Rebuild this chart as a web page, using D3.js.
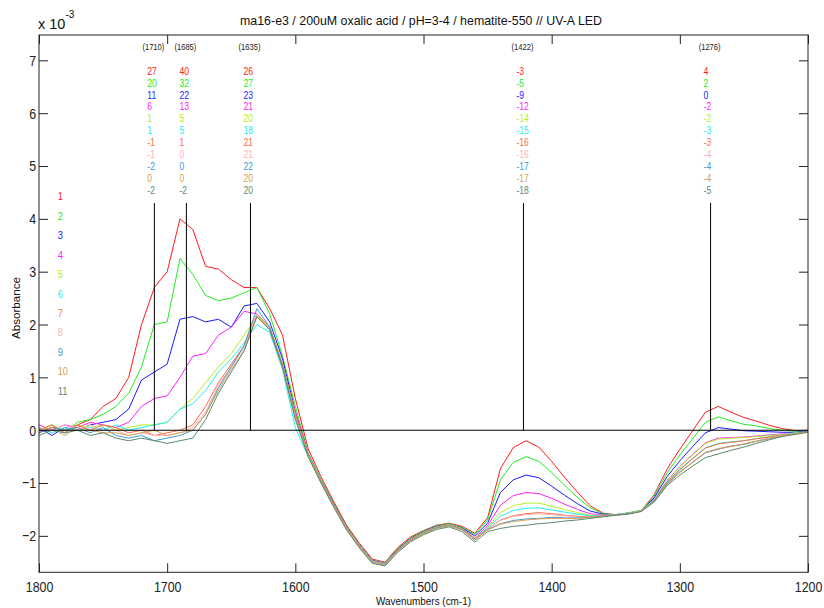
<!DOCTYPE html>
<html>
<head>
<meta charset="utf-8">
<script src="https://cdn.jsdelivr.net/npm/d3@7/dist/d3.min.js"></script>
<style>
  html, body { margin: 0; padding: 0; background: #fff; }
  svg text { font-family: 'Liberation Sans', Arial, sans-serif; }
  .nar-m { transform-box: fill-box; transform-origin: center; transform: scaleX(0.8); }
  .nar-s { transform-box: fill-box; transform-origin: left center; transform: scaleX(0.8); }
  .nar-e { transform-box: fill-box; transform-origin: right center; transform: scaleX(0.8); }
</style>
</head>
<body>
<svg id="chart" width="824" height="608"></svg>
<script>
// ---------------- DATA ----------------
const wavenumbers = [1800,1790,1780,1770,1760,1750,1740,1730,1720,1710,1700,1690,1680,1670,1660,1650,1640,1630,1620,1610,1600,
  1590,1580,1570,1560,1550,1540,1530,1520,1510,1500,1490,1480,1470,1460,
  1450,1440,1430,1420,1410,1400,1390,1380,1370,1360,1350,
  1340,1330,1320,1310,1300,1290,1280,1270,1260,1250,1240,1230,1220,1210,1200];

// absorbance x 10^-3
const s1 = [-0.05,0.05,0.0,0.1,0.2,0.45,0.6,1.0,2.0,2.7,3.0,4.0,3.8,3.1,3.05,2.85,2.7,2.7,2.3,1.8,0.6,
  -0.35,-0.88,-1.35,-1.8,-2.14,-2.44,-2.5,-2.22,-2.02,-1.9,-1.8,-1.76,-1.82,-1.95,
  -1.66,-0.73,-0.33,-0.2,-0.32,-0.59,-0.89,-1.17,-1.43,-1.57,-1.6,
  -1.57,-1.52,-1.22,-0.74,-0.36,-0.01,0.34,0.45,0.34,0.24,0.17,0.09,0.03,-0.01,0.0];
const s2 = [0.0,0.1,-0.05,0.15,0.2,0.3,0.45,0.7,1.2,2.0,2.05,3.25,2.95,2.55,2.45,2.5,2.6,2.7,2.2,1.4,0.45,
  -0.42,-0.93,-1.38,-1.82,-2.16,-2.46,-2.51,-2.24,-2.04,-1.91,-1.81,-1.77,-1.84,-1.97,
  -1.7,-0.94,-0.61,-0.5,-0.59,-0.8,-1.04,-1.27,-1.47,-1.58,-1.6,
  -1.56,-1.52,-1.25,-0.81,-0.47,-0.16,0.15,0.25,0.18,0.11,0.08,0.03,0.0,-0.02,-0.01];
const s3 = [0.05,-0.1,0.05,0.0,0.1,0.15,0.2,0.4,0.95,1.1,1.25,2.1,2.15,2.05,2.1,1.95,2.35,2.4,2.05,1.35,0.35,
  -0.45,-0.95,-1.4,-1.83,-2.17,-2.47,-2.52,-2.25,-2.05,-1.92,-1.82,-1.78,-1.85,-2.0,
  -1.76,-1.18,-0.94,-0.85,-0.9,-1.06,-1.23,-1.39,-1.53,-1.59,-1.6,
  -1.57,-1.53,-1.28,-0.88,-0.58,-0.31,-0.05,0.05,0.02,-0.01,-0.02,-0.03,-0.04,-0.04,-0.02];
const s4 = [0.1,0.0,0.1,0.05,0.15,0.1,0.05,0.15,0.45,0.6,0.65,1.0,1.4,1.45,1.8,1.95,2.25,2.2,1.9,1.2,0.35,
  -0.45,-0.96,-1.41,-1.84,-2.18,-2.47,-2.52,-2.26,-2.06,-1.93,-1.83,-1.79,-1.86,-2.04,
  -1.81,-1.42,-1.24,-1.18,-1.2,-1.29,-1.4,-1.5,-1.58,-1.61,-1.6,
  -1.57,-1.52,-1.31,-0.95,-0.69,-0.46,-0.24,-0.15,-0.14,-0.13,-0.11,-0.09,-0.07,-0.06,-0.02];
const s5 = [0.0,0.1,0.0,0.1,0.05,0.1,0.0,0.05,0.1,0.1,0.15,0.4,0.6,0.9,1.2,1.45,1.8,2.15,1.95,1.25,0.3,
  -0.46,-0.96,-1.42,-1.84,-2.18,-2.48,-2.53,-2.26,-2.06,-1.93,-1.83,-1.78,-1.86,-2.05,
  -1.84,-1.56,-1.43,-1.38,-1.38,-1.44,-1.5,-1.56,-1.61,-1.61,-1.6,
  -1.57,-1.52,-1.32,-0.96,-0.7,-0.47,-0.25,-0.17,-0.15,-0.14,-0.12,-0.1,-0.08,-0.05,-0.03];
const s6 = [0.05,-0.05,0.05,0.0,0.05,0.0,0.1,0.0,0.05,0.1,0.15,0.4,0.5,0.75,1.1,1.35,1.65,2.0,1.85,1.15,0.05,
  -0.5,-0.98,-1.43,-1.85,-2.19,-2.48,-2.53,-2.27,-2.07,-1.94,-1.84,-1.79,-1.87,-2.06,
  -1.85,-1.63,-1.52,-1.48,-1.47,-1.51,-1.55,-1.59,-1.62,-1.62,-1.6,
  -1.57,-1.52,-1.32,-0.98,-0.74,-0.53,-0.33,-0.25,-0.22,-0.2,-0.16,-0.12,-0.09,-0.06,-0.02];
const s7 = [0.0,0.1,-0.05,0.1,0.0,0.1,0.05,-0.05,0.0,-0.1,-0.05,0.0,0.1,0.45,0.9,1.25,1.6,2.2,1.95,1.25,0.3,
  -0.46,-0.97,-1.42,-1.85,-2.19,-2.49,-2.54,-2.27,-2.07,-1.94,-1.84,-1.79,-1.87,-2.06,
  -1.87,-1.7,-1.62,-1.58,-1.56,-1.58,-1.61,-1.63,-1.64,-1.62,-1.61,
  -1.58,-1.53,-1.33,-0.99,-0.75,-0.54,-0.34,-0.26,-0.23,-0.2,-0.16,-0.13,-0.09,-0.07,-0.03];
const s8 = [0.05,0.0,0.1,0.0,0.1,0.0,0.0,-0.1,-0.05,-0.1,-0.1,-0.05,0.05,0.35,0.85,1.2,1.55,2.2,1.9,1.2,0.25,
  -0.47,-0.97,-1.43,-1.86,-2.2,-2.49,-2.54,-2.28,-2.08,-1.95,-1.85,-1.8,-1.88,-2.07,
  -1.87,-1.71,-1.63,-1.6,-1.58,-1.6,-1.62,-1.64,-1.65,-1.63,-1.6,
  -1.58,-1.53,-1.34,-1.02,-0.8,-0.6,-0.42,-0.35,-0.3,-0.26,-0.2,-0.15,-0.1,-0.07,-0.03];
const s9 = [-0.05,0.05,0.0,0.05,-0.05,0.05,-0.1,-0.15,-0.1,-0.2,-0.15,-0.1,0.0,0.3,0.8,1.2,1.6,2.3,1.95,1.2,0.25,
  -0.48,-0.98,-1.44,-1.87,-2.21,-2.5,-2.55,-2.28,-2.08,-1.95,-1.85,-1.8,-1.88,-2.08,
  -1.88,-1.77,-1.71,-1.68,-1.67,-1.65,-1.66,-1.66,-1.65,-1.63,-1.6,
  -1.58,-1.53,-1.34,-1.01,-0.79,-0.61,-0.43,-0.36,-0.3,-0.27,-0.21,-0.16,-0.11,-0.07,-0.02];
const s10 = [0.0,0.05,-0.1,0.05,0.0,-0.05,-0.05,-0.1,-0.05,0.0,-0.1,-0.05,0.0,0.3,0.75,1.15,1.5,2.15,1.9,1.2,0.25,
  -0.48,-0.98,-1.44,-1.87,-2.21,-2.5,-2.55,-2.29,-2.09,-1.96,-1.86,-1.81,-1.89,-2.08,
  -1.89,-1.78,-1.73,-1.7,-1.68,-1.67,-1.67,-1.67,-1.65,-1.63,-1.61,
  -1.58,-1.53,-1.35,-1.03,-0.8,-0.61,-0.42,-0.35,-0.31,-0.26,-0.21,-0.15,-0.11,-0.07,-0.03];
const s11 = [-0.1,0.0,-0.05,0.0,-0.1,-0.05,-0.15,-0.2,-0.15,-0.2,-0.25,-0.2,-0.15,0.2,0.7,1.1,1.5,2.15,1.9,1.2,0.2,
  -0.5,-1.0,-1.46,-1.89,-2.23,-2.52,-2.57,-2.31,-2.11,-1.98,-1.88,-1.83,-1.92,-2.12,
  -1.92,-1.86,-1.82,-1.8,-1.77,-1.75,-1.72,-1.7,-1.67,-1.64,-1.61,
  -1.59,-1.54,-1.36,-1.05,-0.85,-0.68,-0.52,-0.45,-0.38,-0.32,-0.25,-0.18,-0.12,-0.08,-0.04];

const seriesNames = ["1","2","3","4","5","6","7","8","9","10","11"];
const seriesValues = [s1,s2,s3,s4,s5,s6,s7,s8,s9,s10,s11];
const seriesColors = ["#ff1a1a","#22ee22","#1a1aff","#ff22ff","#b4f020","#22eeee","#ff6a48","#ffb2b2","#3f9ad0","#d9a050","#5a8a70"];

// marker positions and their annotated values (x 10^-4)
const markerWn = [1710, 1685, 1635, 1422, 1276];
const vals1710 = [27,20,11,6,1,1,-1,-1,-2,0,-2];
const vals1685 = [40,32,22,13,5,5,1,0,0,0,-2];
const vals1635 = [26,27,23,21,20,18,21,21,22,20,20];
const vals1422 = [-3,-5,-9,-12,-14,-15,-16,-16,-17,-17,-18];
const vals1276 = [4,2,0,-2,-2,-3,-3,-4,-4,-4,-5];
const markerVals = [vals1710, vals1685, vals1635, vals1422, vals1276];
const markerTop = 4.3;

const xTicks = [1800,1700,1600,1500,1400,1300,1200];
const yTicks = [-2,-1,0,1,2,3,4,5,6,7];

const titleText = "ma16-e3 / 200uM oxalic acid / pH=3-4 / hematite-550 // UV-A LED";
const xLabel = "Wavenumbers (cm-1)";
const yLabel = "Absorbance";

// ---------------- LAYOUT ----------------
const L = 39, R = 808, T = 35, B = 572.3;
const svg = d3.select("#chart");
const x = d3.scaleLinear().domain([1800, 1200]).range([L, R]);
const y = d3.scaleLinear().domain([-2.69, 7.48]).range([B, T]);

// lines
const line = d3.line().x((d, i) => x(wavenumbers[i])).y(d => y(d));
const gLines = svg.append("g");
seriesValues.forEach((vals, k) => {
  gLines.append("path").attr("d", line(vals))
    .attr("fill", "none").attr("stroke", seriesColors[k])
    .attr("stroke-width", 1).attr("stroke-linejoin", "round");
});

// zero line
svg.append("line").attr("x1", L).attr("x2", R).attr("y1", y(0)).attr("y2", y(0))
  .attr("stroke", "#000").attr("stroke-width", 1.1);

// marker lines + labels
markerWn.forEach((w, m) => {
  const xm = x(w);
  svg.append("line").attr("x1", xm).attr("x2", xm).attr("y1", y(markerTop)).attr("y2", y(0))
    .attr("stroke", "#000").attr("stroke-width", 1);
  svg.append("text").attr("class", "nar-m").attr("x", xm - 1).attr("y", 50.5).attr("text-anchor", "middle")
    .attr("font-size", "9.5px").attr("fill", "#222").text("(" + w + ")");
  markerVals[m].forEach((v, k) => {
    svg.append("text").attr("class", "nar-s").attr("x", xm - 7).attr("y", 74.8 + k * 11.9)
      .attr("font-size", "10.7px").attr("fill", seriesColors[k]).text(v);
  });
});

// legend
seriesNames.forEach((n, k) => {
  svg.append("text").attr("class", "nar-s").attr("x", 57.7).attr("y", 200.2 + k * 19.47)
    .attr("font-size", "11.6px").attr("fill", seriesColors[k]).text(n);
});

// axes
const axB = d3.axisBottom(x).tickValues(xTicks).tickSizeInner(-9).tickSizeOuter(0).tickPadding(8.5).tickFormat(d3.format("d"));
const axT = d3.axisTop(x).tickValues(xTicks).tickSizeInner(-9).tickSizeOuter(0).tickFormat("");
const axLft = d3.axisLeft(y).tickValues(yTicks).tickSizeInner(-9).tickSizeOuter(0).tickPadding(3).tickFormat(d3.format("d"));
const axRgt = d3.axisRight(y).tickValues(yTicks).tickSizeInner(-9).tickSizeOuter(0).tickFormat("");

function styleAxis(g, cls) {
  g.select(".domain").remove();
  g.selectAll(".tick line").attr("stroke", "#222");
  g.selectAll(".tick text").attr("fill", "#222").attr("font-size", "15.5px")
    .attr("font-family", "'Liberation Sans', Arial, sans-serif").attr("class", cls);
}
svg.append("g").attr("transform", `translate(0,${B})`).call(axB).call(styleAxis, "nar-m");
svg.append("g").attr("transform", `translate(0,${T})`).call(axT).call(styleAxis, "nar-m");
svg.append("g").attr("transform", `translate(${L},0)`).call(axLft).call(styleAxis, "nar-e");
svg.append("g").attr("transform", `translate(${R},0)`).call(axRgt).call(styleAxis, "nar-s");

// frame
svg.append("rect").attr("x", L).attr("y", T).attr("width", R - L).attr("height", B - T)
  .attr("fill", "none").attr("stroke", "#222").attr("stroke-width", 1);

// title and labels
svg.append("text").attr("x", 421).attr("y", 25).attr("text-anchor", "middle")
  .attr("font-size", "13.5px").attr("fill", "#111")
  .attr("textLength", 362).attr("lengthAdjust", "spacingAndGlyphs").text(titleText);
const ex = svg.append("text").attr("x", 38).attr("y", 29).attr("font-size", "14.5px").attr("fill", "#111");
ex.append("tspan").text("x 10");
ex.append("tspan").attr("dy", -11).attr("font-size", "10px").text("-3");
svg.append("text").attr("x", 423.5).attr("y", 605).attr("text-anchor", "middle")
  .attr("font-size", "11.5px").attr("fill", "#111")
  .attr("textLength", 95).attr("lengthAdjust", "spacingAndGlyphs").text(xLabel);
svg.append("text").attr("transform", "translate(20,308) rotate(-90)").attr("text-anchor", "middle")
  .attr("font-size", "11.5px").attr("fill", "#111")
  .attr("textLength", 62).attr("lengthAdjust", "spacingAndGlyphs").text(yLabel);
</script>
</body>
</html>
